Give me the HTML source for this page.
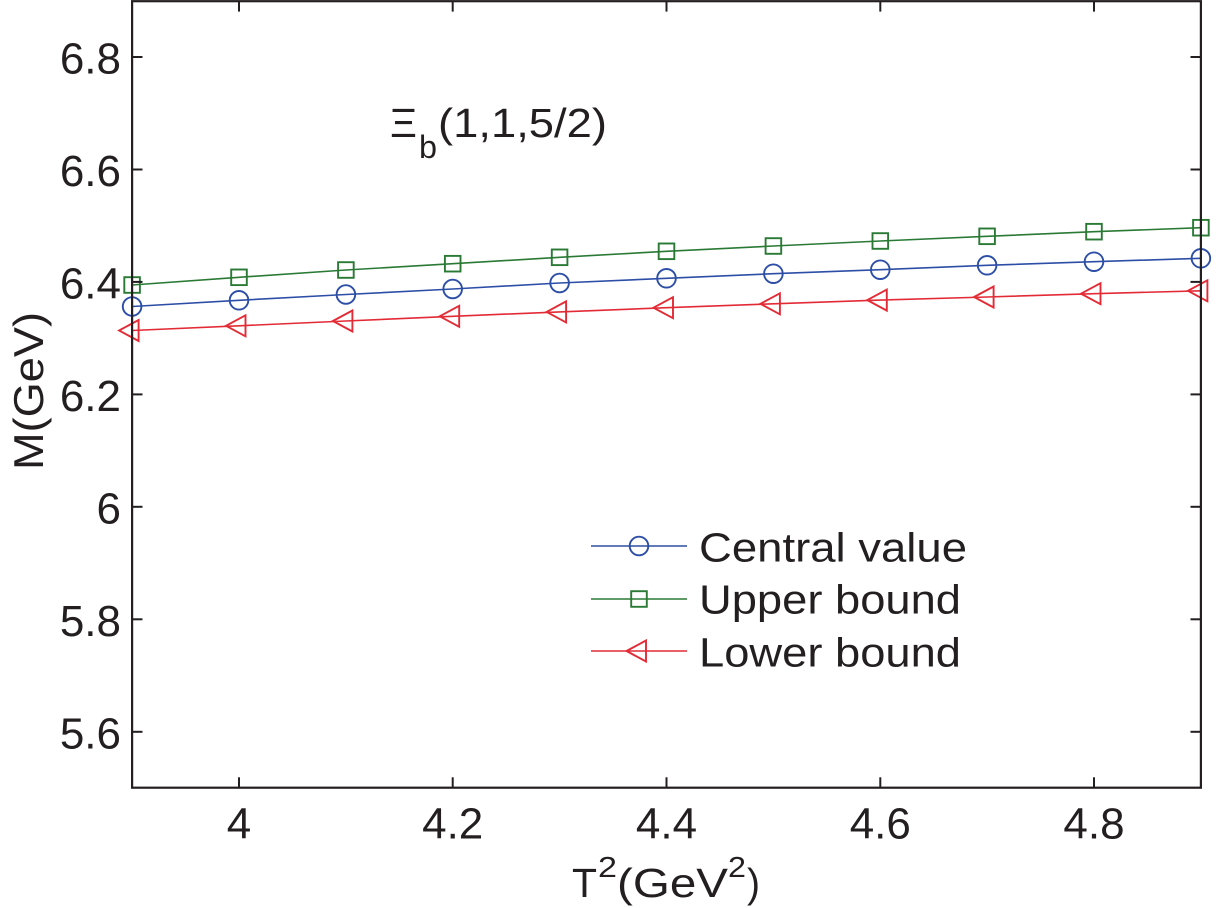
<!DOCTYPE html>
<html>
<head>
<meta charset="utf-8">
<style>
  html, body { margin: 0; padding: 0; background: #ffffff; }
  svg { display: block; }
  text { font-family: "Liberation Sans", "DejaVu Sans", sans-serif; fill: #231f20; }
</style>
</head>
<body>
<svg width="1221" height="908" viewBox="0 0 1221 908" xmlns="http://www.w3.org/2000/svg">
  <rect x="0" y="0" width="1221" height="908" fill="#ffffff"/>

  <!-- Series lines -->
  <g fill="none" stroke-width="1.6" stroke-linejoin="round">
    <polyline stroke="#2a7a35" points="132.1,285 239,277.3 345.9,270 452.7,263.7 559.6,257.3 666.5,251.3 773.4,246 880.3,241 987.1,236.3 1094,231.7 1200.9,227.7"/>
    <polyline stroke="#2c4ea6" points="132.1,306.5 239,300.3 345.9,294.5 452.7,289 559.6,283 666.5,278.3 773.4,273.7 880.3,269.7 987.1,265.3 1094,261.7 1200.9,258.3"/>
    <polyline stroke="#e32b36" points="132.1,330.5 239,325.8 345.9,321 452.7,316.3 559.6,311.9 666.5,307.7 773.4,303.8 880.3,300.1 987.1,297 1094,293.7 1200.9,290.8"/>
  </g>

  <!-- Upper markers (squares) -->
  <g fill="none" stroke="#2a7a35" stroke-width="1.9">
    <rect x="124.3" y="277.2" width="15.6" height="15.6"/>
    <rect x="231.2" y="269.5" width="15.6" height="15.6"/>
    <rect x="338.1" y="262.2" width="15.6" height="15.6"/>
    <rect x="444.9" y="255.9" width="15.6" height="15.6"/>
    <rect x="551.8" y="249.5" width="15.6" height="15.6"/>
    <rect x="658.7" y="243.5" width="15.6" height="15.6"/>
    <rect x="765.6" y="238.2" width="15.6" height="15.6"/>
    <rect x="872.5" y="233.2" width="15.6" height="15.6"/>
    <rect x="979.3" y="228.5" width="15.6" height="15.6"/>
    <rect x="1086.2" y="223.9" width="15.6" height="15.6"/>
    <rect x="1193.1" y="219.9" width="15.6" height="15.6"/>
  </g>

  <!-- Central markers (circles) -->
  <g fill="none" stroke="#2c4ea6" stroke-width="1.9">
    <circle cx="132.1" cy="306.5" r="9.3"/>
    <circle cx="239" cy="300.3" r="9.3"/>
    <circle cx="345.9" cy="294.5" r="9.3"/>
    <circle cx="452.7" cy="289" r="9.3"/>
    <circle cx="559.6" cy="283" r="9.3"/>
    <circle cx="666.5" cy="278.3" r="9.3"/>
    <circle cx="773.4" cy="273.7" r="9.3"/>
    <circle cx="880.3" cy="269.7" r="9.3"/>
    <circle cx="987.1" cy="265.3" r="9.3"/>
    <circle cx="1094" cy="261.7" r="9.3"/>
    <circle cx="1200.9" cy="258.3" r="9.3"/>
  </g>

  <!-- Lower markers (left triangles) -->
  <g fill="none" stroke="#e32b36" stroke-width="1.9" stroke-linejoin="miter">
    <polygon points="119.1,330.5 138.6,320 138.6,341"/>
    <polygon points="226,325.8 245.5,315.3 245.5,336.3"/>
    <polygon points="332.9,321 352.4,310.5 352.4,331.5"/>
    <polygon points="439.7,316.3 459.2,305.8 459.2,326.8"/>
    <polygon points="546.6,311.9 566.1,301.4 566.1,322.4"/>
    <polygon points="653.5,307.7 673,297.2 673,318.2"/>
    <polygon points="760.4,303.8 779.9,293.3 779.9,314.3"/>
    <polygon points="867.3,300.1 886.8,289.6 886.8,310.6"/>
    <polygon points="974.1,297 993.6,286.5 993.6,307.5"/>
    <polygon points="1081,293.7 1100.5,283.2 1100.5,304.2"/>
    <polygon points="1187.9,290.8 1207.4,280.3 1207.4,301.3"/>
  </g>

  <!-- Axes box -->
  <rect x="132.1" y="1.2" width="1068.8" height="786.5" fill="none" stroke="#231f20" stroke-width="2.2"/>

  <!-- Ticks -->
  <g stroke="#231f20" stroke-width="2">
    <line x1="132.1" y1="57" x2="142.5" y2="57"/>
    <line x1="132.1" y1="169.5" x2="142.5" y2="169.5"/>
    <line x1="132.1" y1="281.9" x2="142.5" y2="281.9"/>
    <line x1="132.1" y1="394.4" x2="142.5" y2="394.4"/>
    <line x1="132.1" y1="506.8" x2="142.5" y2="506.8"/>
    <line x1="132.1" y1="619.3" x2="142.5" y2="619.3"/>
    <line x1="132.1" y1="731.8" x2="142.5" y2="731.8"/>
    <line x1="1190.5" y1="57" x2="1200.9" y2="57"/>
    <line x1="1190.5" y1="169.5" x2="1200.9" y2="169.5"/>
    <line x1="1190.5" y1="281.9" x2="1200.9" y2="281.9"/>
    <line x1="1190.5" y1="394.4" x2="1200.9" y2="394.4"/>
    <line x1="1190.5" y1="506.8" x2="1200.9" y2="506.8"/>
    <line x1="1190.5" y1="619.3" x2="1200.9" y2="619.3"/>
    <line x1="1190.5" y1="731.8" x2="1200.9" y2="731.8"/>
    <line x1="239" y1="787.7" x2="239" y2="777.3"/>
    <line x1="452.7" y1="787.7" x2="452.7" y2="777.3"/>
    <line x1="666.5" y1="787.7" x2="666.5" y2="777.3"/>
    <line x1="880.3" y1="787.7" x2="880.3" y2="777.3"/>
    <line x1="1094" y1="787.7" x2="1094" y2="777.3"/>
    <line x1="239" y1="1.2" x2="239" y2="11.6"/>
    <line x1="452.7" y1="1.2" x2="452.7" y2="11.6"/>
    <line x1="666.5" y1="1.2" x2="666.5" y2="11.6"/>
    <line x1="880.3" y1="1.2" x2="880.3" y2="11.6"/>
    <line x1="1094" y1="1.2" x2="1094" y2="11.6"/>
  </g>

  <!-- Y tick labels -->
  <g font-size="44" text-anchor="end">
    <text x="121" y="73.5">6.8</text>
    <text x="121" y="186">6.6</text>
    <text x="121" y="298.4">6.4</text>
    <text x="121" y="410.9">6.2</text>
    <text x="121" y="523.3">6</text>
    <text x="121" y="635.8">5.8</text>
    <text x="121" y="748.3">5.6</text>
  </g>

  <!-- X tick labels -->
  <g font-size="44" text-anchor="middle">
    <text x="239" y="838.5">4</text>
    <text x="452.7" y="838.5">4.2</text>
    <text x="666.5" y="838.5">4.4</text>
    <text x="880.3" y="838.5">4.6</text>
    <text x="1094" y="838.5">4.8</text>
  </g>

  <!-- X axis label -->
  <text x="572" y="897" font-size="41" textLength="25" lengthAdjust="spacingAndGlyphs">T</text>
  <text x="598" y="877" font-size="29" textLength="19" lengthAdjust="spacingAndGlyphs">2</text>
  <text x="617" y="897" font-size="41" textLength="111" lengthAdjust="spacingAndGlyphs">(GeV</text>
  <text x="728" y="877" font-size="29" textLength="18" lengthAdjust="spacingAndGlyphs">2</text>
  <text x="747" y="897" font-size="41" textLength="13" lengthAdjust="spacingAndGlyphs">)</text>

  <!-- Y axis label -->
  <text transform="rotate(-90)" x="-391" y="43" font-size="42" text-anchor="middle" textLength="158" lengthAdjust="spacingAndGlyphs">M(GeV)</text>

  <!-- Annotation -->
  <text x="390" y="137" font-size="41" textLength="27" lengthAdjust="spacingAndGlyphs">Ξ</text>
  <text x="419" y="158" font-size="32" textLength="18" lengthAdjust="spacingAndGlyphs">b</text>
  <text x="438" y="137" font-size="41" textLength="169" lengthAdjust="spacingAndGlyphs">(1,1,5/2)</text>

  <!-- Legend -->
  <g stroke-width="1.6" fill="none">
    <line x1="591" y1="546" x2="687" y2="546" stroke="#2c4ea6"/>
    <circle cx="639" cy="546" r="9.3" stroke="#2c4ea6" stroke-width="1.9"/>
    <line x1="591" y1="599" x2="687" y2="599" stroke="#2a7a35"/>
    <rect x="631.2" y="591.2" width="15.6" height="15.6" stroke="#2a7a35" stroke-width="1.9"/>
    <line x1="591" y1="651" x2="687" y2="651" stroke="#e32b36"/>
    <polygon points="626.5,651 646,640.5 646,661.5" stroke="#e32b36" stroke-width="1.9"/>
  </g>
  <g font-size="41">
    <text x="699" y="561.7" textLength="268" lengthAdjust="spacingAndGlyphs">Central value</text>
    <text x="699" y="613.5" textLength="262" lengthAdjust="spacingAndGlyphs">Upper bound</text>
    <text x="699" y="666.5" textLength="262" lengthAdjust="spacingAndGlyphs">Lower bound</text>
  </g>
</svg>
</body>
</html>
